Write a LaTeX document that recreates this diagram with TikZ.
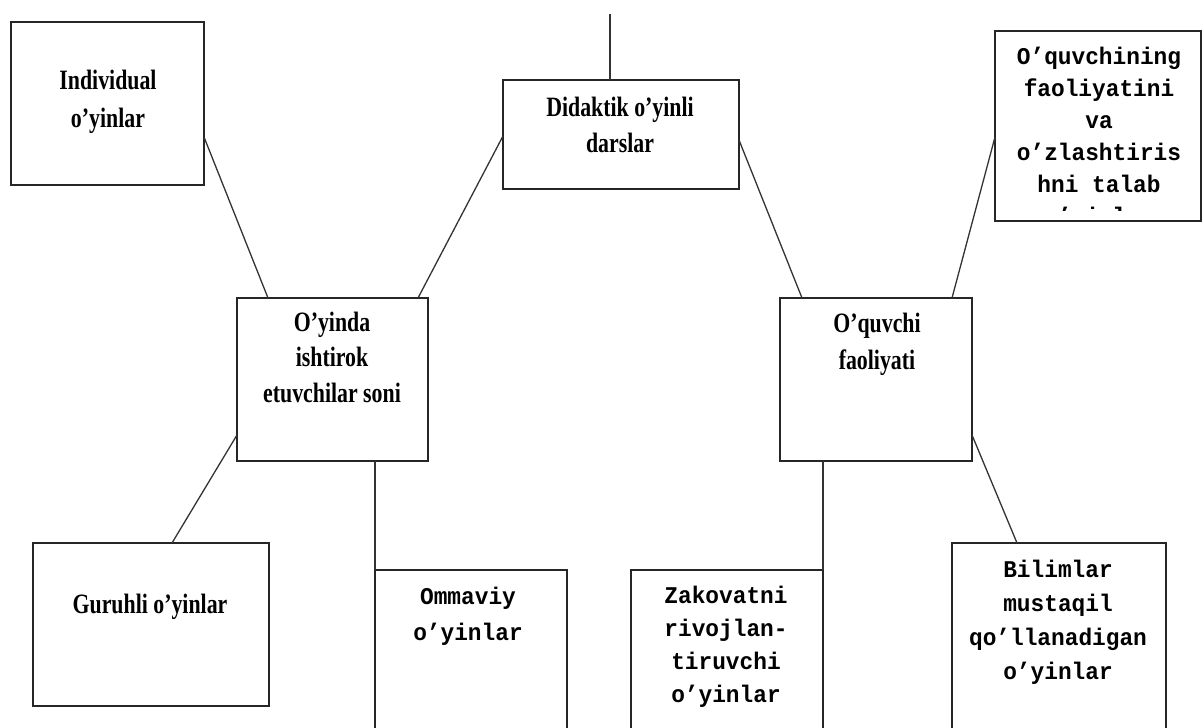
\documentclass[tikz,border=0pt]{standalone}
\usepackage{fontspec}
\usepackage{graphicx}
\setmainfont{Liberation Serif}
\setmonofont{Liberation Mono}
\usetikzlibrary{calc}
\newcommand\stxt[2]{{\fontsize{28}{#1}\selectfont\bfseries\scalebox{0.78}[1]{\begin{tabular}{@{}c@{}}#2\end{tabular}}}}
\newcommand\mtxt[2]{{\fontsize{24}{#1}\selectfont\ttfamily\bfseries\scalebox{0.95}[1]{\begin{tabular}{@{}c@{}}#2\end{tabular}}}}
\begin{document}
\begin{tikzpicture}[x=1pt,y=-1pt,
  box/.style={draw=black!85, line width=1.8pt, inner sep=0pt, outer sep=0pt, rectangle},
  link/.style={draw=black!80, line width=1.3pt},
  label/.style={inner sep=0pt, outer sep=0pt},
]
\useasboundingbox (0,0) rectangle (1202,728);
\clip (0,0) rectangle (1202,728);

% boxes
\node[box, minimum width=193pt, minimum height=163pt] (ind) at (107.5,103.5) {};
\node[box, minimum width=236pt, minimum height=109pt] (did) at (621,134.5) {};
\node[box, minimum width=206pt, minimum height=190pt] (tr) at (1098,126) {};
\node[box, minimum width=191pt, minimum height=163pt] (oy) at (332.5,379.5) {};
\node[box, minimum width=192pt, minimum height=163pt] (oq) at (876,379.5) {};
\node[box, minimum width=236pt, minimum height=163pt] (gur) at (151,624.5) {};
\node[box, minimum width=192pt, minimum height=190pt] (omn) at (471,665) {};
\node[box, minimum width=192pt, minimum height=190pt] (zak) at (727,665) {};
\node[box, minimum width=214pt, minimum height=217pt] (bil) at (1059,651.5) {};

% texts
\node[label] (indT) at (108,101) {\stxt{38}{Individual\\o’yinlar}};
\node[label] (didT) at (620,127) {\stxt{36}{Didaktik o’yinli\\darslar}};
\node[label] (oyT) at (332,359.5) {\stxt{35.5}{O’yinda\\ishtirok\\etuvchilar soni}};
\node[label] (oqT) at (877,343.5) {\stxt{37}{O’quvchi\\faoliyati}};
\node[label] (gurT) at (150,606) {\stxt{36}{Guruhli o’yinlar}};
\node[label] (omnT) at (468,615) {\mtxt{36}{Ommaviy\\o’yinlar}};
\node[label] (zakT) at (726,646) {\mtxt{33}{Zakovatni\\rivojlan-\\tiruvchi\\o’yinlar}};
\node[label] (bilT) at (1058,622) {\mtxt{34}{Bilimlar\\mustaqil\\qo’llanadigan\\o’yinlar}};
\begin{scope}
  \clip (996,32) rectangle (1200,210);
  \node[label] (trT) at (1099,138) {\mtxt{32}{O’quvchining\\faoliyatini\\va\\o’zlashtiris\\hni talab\\o’yinlar}};
\end{scope}

% connectors
\coordinate (topend) at (610,14);
\draw[link] (topend) -- ([xshift=-11pt]did.north);
\draw[link] ([yshift=-115pt]ind.north east) -- ([xshift=31pt]oy.north west);
\draw[link] ([yshift=-56pt]did.north west) -- ([xshift=-10pt]oy.north east);
\draw[link] ([yshift=-60pt]did.north east) -- ([xshift=22pt]oq.north west);
\draw[link] ([yshift=-106pt]tr.north west) -- ([xshift=-20pt]oq.north east);
\draw[link] ([yshift=26pt]oy.south west) -- ([xshift=139pt]gur.north west);
\draw[link] ([xshift=138pt]oy.south west) -- (omn.north west);
\draw[link] ([xshift=43pt]oq.south west) -- (zak.north east);
\draw[link] ([yshift=26pt]oq.south east) -- ([xshift=65pt]bil.north west);
\end{tikzpicture}
\end{document}
